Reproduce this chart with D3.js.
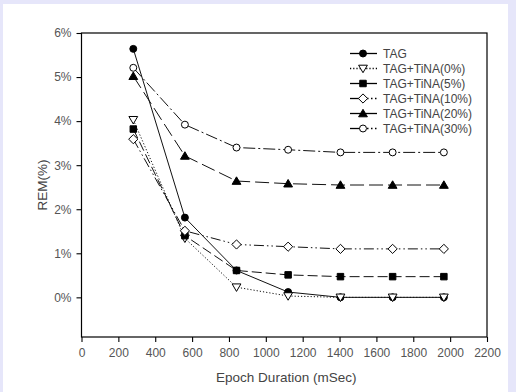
<!DOCTYPE html>
<html>
<head>
<meta charset="utf-8">
<script src="https://cdn.jsdelivr.net/npm/d3@7"></script>
<style>
  body { margin: 0; background: #e6e6fa; }
  svg { display: block; }
</style>
</head>
<body>
<div id="chart_div"></div>
<script>
// data
var epochs = [281, 561, 841, 1121, 1405, 1688, 1966];
var seriesNames = ['TAG', 'TAG+TiNA(0%)', 'TAG+TiNA(5%)', 'TAG+TiNA(10%)', 'TAG+TiNA(20%)', 'TAG+TiNA(30%)'];
var tag     = [5.64, 1.81, 0.61, 0.12, 0, 0, 0];
var tina0   = [4.03, 1.34, 0.23, 0.03, 0, 0, 0];
var tina5   = [3.82, 1.40, 0.61, 0.51, 0.47, 0.47, 0.47];
var tina10  = [3.59, 1.51, 1.20, 1.15, 1.10, 1.10, 1.10];
var tina20  = [5.02, 3.21, 2.64, 2.58, 2.55, 2.55, 2.55];
var tina30  = [5.21, 3.92, 3.40, 3.35, 3.29, 3.29, 3.29];
var allValues = [tag, tina0, tina5, tina10, tina20, tina30];
var xTicks = [0, 200, 400, 600, 800, 1000, 1200, 1400, 1600, 1800, 2000, 2200];
var yTicks = [0, 1, 2, 3, 4, 5, 6];

var w = 516, h = 392;
var margin = {top: 33, right: 29, bottom: 55, left: 81.5};

var svg = d3.select('#chart_div').append('svg')
    .attr('width', w)
    .attr('height', h);

// white panel
svg.append('rect')
    .attr('x', 3).attr('y', 4)
    .attr('width', 505).attr('height', h - 4)
    .attr('fill', '#fff');

var x = d3.scaleLinear().domain([0, 2200]).range([margin.left, w - margin.right]);
var y = d3.scaleLinear().domain([-0.9, 6]).range([h - margin.bottom, margin.top]);

// frame
svg.append('rect')
    .attr('x', x(0)).attr('y', y(6))
    .attr('width', x(2200) - x(0)).attr('height', y(-0.9) - y(6))
    .attr('fill', 'none').attr('stroke', '#000').attr('stroke-width', 1.2);

var xAxis = svg.append('g')
    .attr('transform', 'translate(0,' + y(-0.9) + ')')
    .call(d3.axisBottom(x).tickValues(xTicks).tickSize(5).tickPadding(6).tickFormat(d3.format('d')));
var yAxis = svg.append('g')
    .attr('transform', 'translate(' + x(0) + ',0)')
    .call(d3.axisLeft(y).tickValues(yTicks).tickSize(5).tickPadding(5).tickFormat(function(d){ return d + '%'; }));

[xAxis, yAxis].forEach(function(ax){
    ax.select('.domain').remove();
    ax.selectAll('line').attr('stroke', '#000').attr('stroke-width', 1.1);
    ax.selectAll('text')
        .style('font-family', 'Liberation Sans, Arial, sans-serif')
        .style('font-size', '12px')
        .attr('fill', '#555');
});

svg.append('text')
    .attr('x', (x(0) + x(2200)) / 2 + 2)
    .attr('y', 382)
    .attr('text-anchor', 'middle')
    .style('font-family', 'Liberation Sans, Arial, sans-serif')
    .style('font-size', '13.5px')
    .attr('fill', '#444')
    .text('Epoch Duration (mSec)');

svg.append('text')
    .attr('transform', 'translate(47,' + 185 + ') rotate(-90)')
    .attr('text-anchor', 'middle')
    .style('font-family', 'Liberation Sans, Arial, sans-serif')
    .style('font-size', '13.5px')
    .attr('fill', '#444')
    .text('REM(%)');

var styles = [
    {dash: null,           marker: 'circle',   fill: '#000', legL: null, legR: null},
    {dash: '1.2,2',        marker: 'triangle-down', fill: '#fff', legL: '1.2,2', legR: '1.2,2'},
    {dash: '10,4',         marker: 'square',   fill: '#000', legL: null, legR: null},
    {dash: '10,3,1.5,3,1.5,3', marker: 'diamond', fill: '#fff', legL: null, legR: '1.5,2.5'},
    {dash: '14,5',         marker: 'triangle', fill: '#000', legL: null, legR: null},
    {dash: '12,3,2,3',     marker: 'circle',   fill: '#fff', legL: null, legR: '1.5,2.5'}
];

function markerPath(kind) {
    if (kind == 'circle') return d3.symbol(d3.symbolCircle, 38)();
    if (kind == 'square') return d3.symbol(d3.symbolSquare, 42)();
    if (kind == 'diamond') return 'M0,-4.6L4.6,0L0,4.6L-4.6,0Z';
    if (kind == 'triangle') return 'M0,-4.2L4.4,3.3L-4.4,3.3Z';
    return 'M0,4.2L4.4,-3.3L-4.4,-3.3Z';
}

var line = d3.line()
    .x(function(d){ return x(d[0]); })
    .y(function(d){ return y(d[1]); });

// draw lines first
for (var i = 0; i < allValues.length; i++){
    var pts = epochs.map(function(e, j){ return [e, allValues[i][j]]; });
    svg.append('path')
        .attr('d', line(pts))
        .attr('fill', 'none')
        .attr('stroke', '#111')
        .attr('stroke-width', 1)
        .attr('stroke-dasharray', styles[i].dash);
}

// then markers
for (var i = 0; i < allValues.length; i++){
    for (var j = 0; j < epochs.length; j++){
        svg.append('path')
            .attr('d', markerPath(styles[i].marker))
            .attr('transform', 'translate(' + x(epochs[j]) + ',' + y(allValues[i][j]) + ')')
            .attr('fill', styles[i].fill)
            .attr('stroke', '#000')
            .attr('stroke-width', 1);
    }
}

// legend
var legX = 350, legY = 53.5, legGap = 15;
for (var i = 0; i < seriesNames.length; i++){
    var ly = legY + i * legGap;
    svg.append('line')
        .attr('x1', legX).attr('x2', legX + 13).attr('y1', ly).attr('y2', ly)
        .attr('stroke', '#000').attr('stroke-width', 1.3)
        .attr('stroke-dasharray', styles[i].legL);
    svg.append('line')
        .attr('x1', legX + 13).attr('x2', legX + 27).attr('y1', ly).attr('y2', ly)
        .attr('stroke', '#000').attr('stroke-width', 1.3)
        .attr('stroke-dasharray', styles[i].legR);
    svg.append('path')
        .attr('d', markerPath(styles[i].marker))
        .attr('transform', 'translate(' + (legX + 13) + ',' + ly + ')')
        .attr('fill', styles[i].fill)
        .attr('stroke', '#000');
    svg.append('text')
        .attr('x', legX + 33).attr('y', ly + 4.5)
        .style('font-family', 'Liberation Sans, Arial, sans-serif')
        .style('font-size', '12px')
        .attr('fill', '#444')
        .text(seriesNames[i]);
}
</script>
</body>
</html>
